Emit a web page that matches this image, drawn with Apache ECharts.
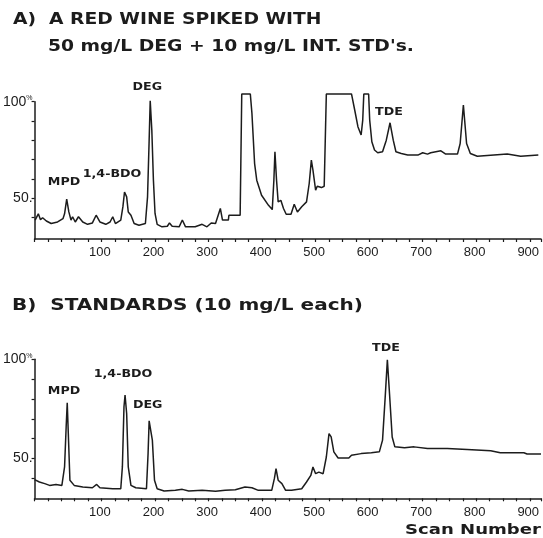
<!DOCTYPE html>
<html>
<head>
<meta charset="utf-8">
<script src="https://cdn.jsdelivr.net/npm/echarts@6.0.0/dist/echarts.min.js"></script>
<style>
  html, body { margin: 0; padding: 0; background: #fff; }
  #chart { width: 543px; height: 538px; }
</style>
</head>
<body>
<div id="chart"></div>
<script>
// A) red wine spiked with DEG + internal standards
var scanA = [1, 7, 11, 15, 22, 31, 43, 53, 56, 60, 64, 68, 71, 76, 82, 90, 99, 108, 115, 122,
  133, 141, 146, 151, 161, 165, 168, 172, 175, 180, 186, 195, 207, 211, 214, 216, 219, 222, 225, 229,
  238, 248, 252, 257, 270, 276, 282, 300, 313, 322, 330, 338, 347, 351, 362, 363, 384, 387, 403, 406,
  411, 415, 424, 437, 444, 447, 449, 452, 455, 460, 465, 470, 479, 485, 491, 499, 508, 513, 517, 520,
  525, 528, 536, 541, 545, 592, 598, 604, 610, 613, 615, 624, 626, 630, 635, 641, 650, 657, 664, 670,
  675, 685, 688, 697, 716, 725, 734, 740, 759, 768, 790, 795, 801, 807, 814, 827, 858, 883, 908, 941];
var abundA = [38.8, 42, 39, 40, 38.3, 37, 37.8, 39.5, 42, 49.6, 43, 38.8, 40.5, 37.8, 40.5, 37.8, 36.6, 37.3, 41.3, 37.8,
  36.6, 37.8, 40.5, 37, 38.8, 45.7, 53.3, 50.8, 43, 41.3, 37, 36.1, 37, 50.8, 80, 100.5, 85.4, 59.4, 42.2, 36.6,
  35.3, 35.6, 37.3, 35.6, 35.3, 38.8, 35.3, 35.3, 36.6, 35.3, 37.3, 37, 44.8, 38.8, 38.8, 41.3, 41.3, 104, 104, 94,
  68, 59.4, 51.6, 46.4, 44.2, 59.4, 74.1, 59.4, 48.2, 49, 44.8, 41.8, 41.8, 47, 43, 45.7, 48.2, 57.7, 69.8, 64.6,
  54.2, 56.3, 55.6, 56.3, 104, 104, 95.7, 87.1, 82.8, 90.5, 104, 104, 90.5, 79.3, 75, 73.6, 74.1, 80.1, 89.1, 80.1,
  74.1, 73.2, 74.1, 72.4, 72.4, 73.6, 72.9, 73.6, 74.6, 72.9, 72.9, 78.4, 98.3, 78.4, 73.2, 71.8, 72.4, 72.9, 71.8, 72.4];

// B) standards, 10 mg/L each
var scanB = [0, 9, 19, 28, 40, 51, 56, 59, 61, 63, 66, 74, 90, 108, 116, 122, 146, 161, 164, 167,
  169, 172, 175, 180, 189, 209, 212, 214, 217, 220, 224, 229, 242, 263, 276, 288, 313, 338, 356, 375,
  393, 406, 418, 443, 448, 451, 455, 462, 465, 469, 480, 499, 508, 516, 520, 525, 531, 539, 545, 550,
  554, 559, 567, 587, 592, 610, 629, 644, 650, 655, 659, 663, 668, 673, 691, 709, 734, 771, 808, 852,
  870, 914, 920, 946];
var abundB = [39.4, 38.2, 37.4, 36.5, 37, 36.5, 45.8, 66, 78.1, 62.6, 39.1, 36.5, 35.7, 35.3, 37, 35.3, 34.8, 34.8, 45.8, 76.1,
  82, 72.7, 45.8, 36.5, 35.3, 34.8, 52.5, 69, 68.5, 59.3, 39.1, 34.8, 33.7, 34, 34.5, 33.7, 34, 33.5, 34, 34.3,
  35.7, 35.3, 34, 34, 40, 45, 39.1, 37.4, 38.2, 34, 34, 34.8, 38.2, 41.5, 45.8, 42.4, 43.2, 42.4, 50.8, 62.6,
  60.9, 53.4, 50.3, 50.3, 51.7, 52.5, 52.9, 53.4, 59.3, 81.2, 99.7, 82.8, 60.9, 55.9, 55.4, 55.9, 55.1, 55.1, 54.6, 53.9,
  52.9, 52.9, 52.3, 52.3];

var xLabels = [100, 200, 300, 400, 500, 600, 700, 800, 900];
var yTicks = [40, 50, 60, 70, 80, 90, 100];
var yLabels = [50, 100];

function pairs(xs, ys) {
  return xs.map(function (x, i) { return [x, ys[i]]; });
}

var ink = '#1c1c1c';

function xAxisFor(gridIndex, margin) {
  return {
    type: 'value', gridIndex: gridIndex, min: 0, max: 946, interval: 25,
    axisLine: { lineStyle: { color: ink, width: 1.5 } },
    axisTick: { length: 3, lineStyle: { color: ink, width: 1.2 } },
    axisLabel: {
      customValues: xLabels, align: 'left', margin: margin, padding: [0, 0, 0, 1],
      color: ink, fontSize: 13, fontFamily: 'Liberation Sans'
    },
    splitLine: { show: false }
  };
}

function yAxisFor(gridIndex, min) {
  return {
    type: 'value', gridIndex: gridIndex, min: min, max: 100,
    axisLine: { show: true, lineStyle: { color: ink, width: 1.5 } },
    axisTick: { show: true, customValues: yTicks, length: 3, lineStyle: { color: ink, width: 1.2 } },
    axisLabel: {
      customValues: yLabels, margin: 2,
      formatter: function (v) { return v === 100 ? '{n|100}{p|%}' : '{n|' + v + '.}'; },
      rich: {
        n: { fontSize: 14, fontFamily: 'Liberation Sans', color: ink },
        p: { fontSize: 7, fontFamily: 'Liberation Sans', color: ink, verticalAlign: 'top' }
      }
    },
    splitLine: { show: false }
  };
}

function label(text, x, y, size, sx, align) {
  return {
    type: 'text', x: x, y: y, scaleX: sx,
    style: {
      text: text, fill: ink, fontSize: size, fontWeight: 'bold', fontFamily: 'DejaVu Sans',
      align: align || 'center', textAlign: align || 'center',
      verticalAlign: 'middle', textVerticalAlign: 'middle'
    }
  };
}

var chart = echarts.init(document.getElementById('chart'));
chart.setOption({
  animation: false,
  backgroundColor: '#fff',
  grid: [
    { left: 31.7, right: 2, top: 101.7, height: 137.3 },
    { left: 31.7, right: 2, top: 359.3, height: 139 }
  ],
  xAxis: [xAxisFor(0, 7), xAxisFor(1, 8)],
  yAxis: [yAxisFor(0, 29), yAxisFor(1, 30)],
  series: [
    {
      type: 'line', xAxisIndex: 0, yAxisIndex: 0, data: pairs(scanA, abundA),
      showSymbol: false, clip: false, lineStyle: { color: ink, width: 1.5 }
    },
    {
      type: 'line', xAxisIndex: 1, yAxisIndex: 1, data: pairs(scanB, abundB),
      showSymbol: false, clip: false, lineStyle: { color: ink, width: 1.5 }
    }
  ],
  graphic: [
    label('A)  A RED WINE SPIKED WITH', 13, 20, 16, 1.17, 'left'),
    label('50 mg/L DEG + 10 mg/L INT. STD\'s.', 48, 46.5, 16, 1.17, 'left'),
    label('B)  STANDARDS (10 mg/L each)', 12, 306, 16, 1.25, 'left'),
    label('Scan Number', 405, 530, 14, 1.29, 'left'),
    label('MPD', 64, 181.7, 11, 1.15),
    label('1,4-BDO', 112, 174.3, 11, 1.15),
    label('DEG', 147.3, 87.3, 11, 1.15),
    label('TDE', 389, 111.7, 11, 1.15),
    label('MPD', 64, 391, 11, 1.15),
    label('1,4-BDO', 123, 374.3, 11, 1.15),
    label('DEG', 147.7, 405, 11, 1.15),
    label('TDE', 386, 347.7, 11, 1.15)
  ]
});
</script>
</body>
</html>
